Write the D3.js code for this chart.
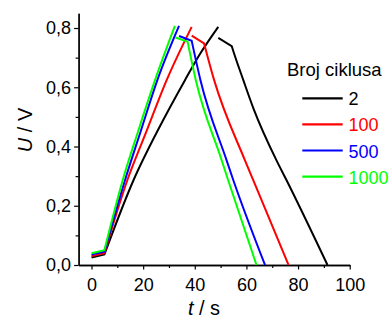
<!DOCTYPE html>
<html><head><meta charset="utf-8">
<script src="https://cdn.jsdelivr.net/npm/d3@7"></script>
<style>
html,body{margin:0;padding:0;background:#fff;}
svg{display:block;font-family:"Liberation Sans",Arial,sans-serif;}
</style></head>
<body><svg id="c" width="391" height="322"></svg>
<script>
// Data: [t (s), U (V)] — charge (rise) and discharge (fall) branches
const rise2 = [[0,0.025],[5,0.036],[16.3,0.287],[26,0.46],[36.2,0.624],[42,0.712],[49.1,0.804]];
const fall2 = [[49.1,0.767],[54.3,0.739],[55,0.72],[58.8,0.624],[62.7,0.529],[71.6,0.354],[75.5,0.287],[91.4,0]];
const rise100 = [[0,0.03],[5,0.04],[13.9,0.287],[21,0.445],[29.1,0.624],[38.8,0.804]];
const fall100 = [[38.8,0.774],[43.6,0.748],[47.5,0.624],[59.4,0.354],[62.6,0.287],[76.3,0]];
const rise500 = [[0,0.035],[5,0.045],[13,0.287],[19,0.45],[25.5,0.624],[33.9,0.807]];
const fall500 = [[33.9,0.773],[38.8,0.757],[42.2,0.624],[52.3,0.354],[54.9,0.287],[67.2,0]];
const rise1000 = [[0,0.04],[5,0.05],[12.1,0.287],[18,0.45],[24.6,0.624],[32.3,0.807]];
const fall1000 = [[32.5,0.768],[37.2,0.754],[40.4,0.624],[50.4,0.354],[52.9,0.287],[63.9,0]];
const seriesNames = ["2","100","500","1000"];
const seriesColors = ["#000000","#ff0000","#0000ff","#00ff00"];
const rises = [rise2, rise100, rise500, rise1000];
const falls = [fall2, fall100, fall500, fall1000];
const xMajor = [0,20,40,60,80,100];
const xMinor = [10,30,50,70,90];
const yMajor = [0,0.2,0.4,0.6,0.8];
const yMinor = [0.1,0.3,0.5,0.7];
const legendTitle = "Broj ciklusa";

const svg = d3.select("#c");
const x = d3.scaleLinear().domain([-5,100]).range([78.6,349.7]);
const y = d3.scaleLinear().domain([0,0.85]).range([265,13.2]);
const fmt = d => d3.format(".1f")(d).replace(".", ",");

// axes
const gx = svg.append("g").attr("transform","translate(0,265)");
gx.call(d3.axisBottom(x).tickValues(xMinor).tickSize(3).tickSizeOuter(0).tickFormat(""));
gx.append("g").call(d3.axisBottom(x).tickValues(xMajor).tickSize(4.5).tickSizeOuter(0).tickPadding(9).tickFormat(d3.format("d")));
const gy = svg.append("g").attr("transform","translate(78.6,0)");
gy.call(d3.axisLeft(y).tickValues(yMinor).tickSize(3).tickSizeOuter(0).tickFormat(""));
gy.append("g").call(d3.axisLeft(y).tickValues(yMajor).tickSize(4.5).tickSizeOuter(0).tickPadding(3).tickFormat(fmt));
svg.selectAll(".domain").attr("stroke","#000").attr("stroke-width",1.3);
svg.selectAll(".tick line").attr("stroke","#000").attr("stroke-width",1.2);
svg.selectAll(".tick text").attr("fill","#000").style("font-size","18px").style("font-family","'Liberation Sans',Arial,sans-serif");

// curves: first step of each branch straight, rest smooth, joined into one subpath
const lin = d3.line().x(d => x(d[0])).y(d => y(d[1]));
const smooth = d3.line().curve(d3.curveMonotoneX).x(d => x(d[0])).y(d => y(d[1]));
function branch(pts) {
  return lin(pts.slice(0,2)) + smooth(pts.slice(1)).replace(/^M/, "L");
}
rises.forEach((r,i) => {
  svg.append("path").attr("d", branch(r) + branch(falls[i])).attr("fill","none")
    .attr("stroke", seriesColors[i]).attr("stroke-width",2).attr("stroke-linejoin","miter");
});

// axis titles
const yt = svg.append("text").attr("transform","translate(32,130) rotate(-90)")
  .attr("text-anchor","middle").style("font-size","20px").attr("fill","#000");
yt.append("tspan").style("font-style","italic").text("U");
yt.append("tspan").text(" / V");
const xt = svg.append("text").attr("x",204).attr("y",315)
  .attr("text-anchor","middle").style("font-size","20px").attr("fill","#000");
xt.append("tspan").style("font-style","italic").text("t");
xt.append("tspan").text(" / s");

// legend
svg.append("text").attr("x",287).attr("y",76).style("font-size","18.5px").attr("fill","#000").text(legendTitle);
seriesNames.forEach((n,i) => {
  const yy = 98.3 + i*26.1;
  svg.append("line").attr("x1",302.3).attr("x2",342.7).attr("y1",yy).attr("y2",yy)
    .attr("stroke",seriesColors[i]).attr("stroke-width",2.2);
  svg.append("text").attr("x",348.5).attr("y",yy+7).style("font-size","18px")
    .attr("fill",seriesColors[i]).text(n);
});
</script></body></html>
